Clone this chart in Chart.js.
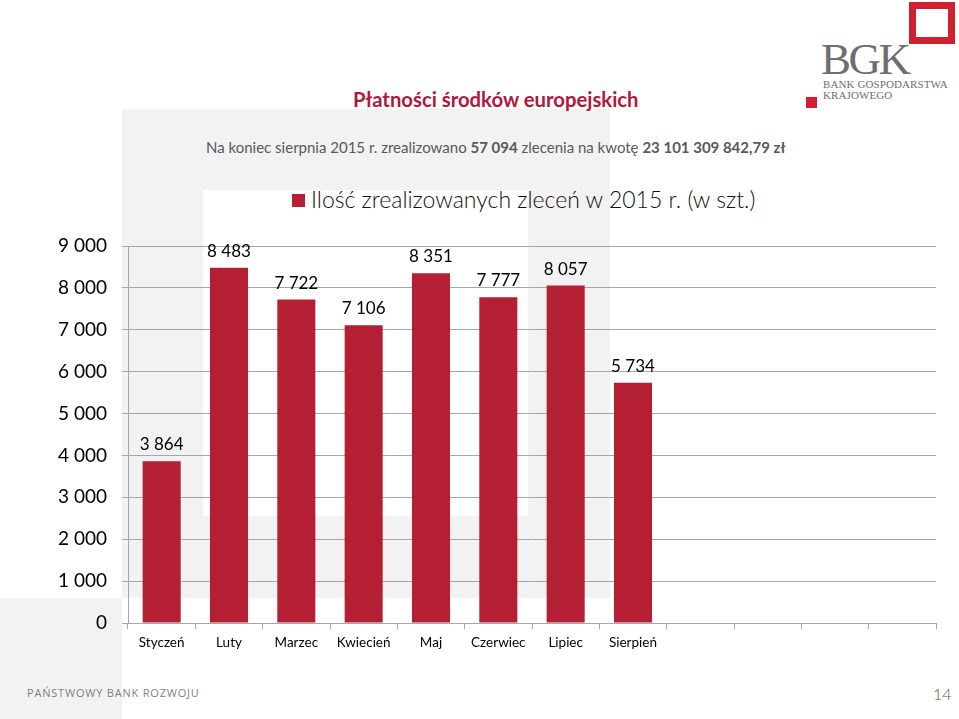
<!DOCTYPE html>
<html lang="pl">
<head>
<meta charset="utf-8">
<script src="https://cdn.jsdelivr.net/npm/chart.js@4/dist/chart.umd.min.js"></script>
<style>
  html, body { margin: 0; padding: 0; background: #fff; }
  body { width: 959px; height: 719px; position: relative; overflow: hidden; font-family: Lato, "Open Sans", sans-serif; }
  .bg { position: absolute; }
  #chartWrap { position: absolute; left: 0; top: 0; width: 959px; height: 719px; }
  .txt { position: absolute; white-space: nowrap; }
</style>
</head>
<body>
<!-- decorative slide background -->
<div class="bg" style="left:122px;top:109px;width:488px;height:489px;background:#f2f2f2;"></div>
<div class="bg" style="left:203px;top:190px;width:325px;height:326px;background:#ffffff;"></div>
<div class="bg" style="left:0;top:598px;width:122px;height:121px;background:#f2f2f2;"></div>

<!-- logo -->
<div class="bg" style="left:909px;top:2px;width:32px;height:28px;border:7px solid #d1202f;"></div>
<div class="txt" style="left:821px;top:33px;font-family:'Liberation Serif','DejaVu Serif',serif;font-size:45px;line-height:52px;color:#6d6e71;letter-spacing:-2.5px;">BGK</div>
<div class="txt" style="left:823px;top:78px;font-family:'Liberation Serif','DejaVu Serif',serif;font-size:11px;line-height:12px;color:#6d6e71;letter-spacing:0.1px;">BANK GOSPODARSTWA</div>
<div class="txt" style="left:823px;top:89px;font-family:'Liberation Serif','DejaVu Serif',serif;font-size:11px;line-height:12px;color:#6d6e71;letter-spacing:0.1px;">KRAJOWEGO</div>
<div class="bg" style="left:806px;top:97px;width:11px;height:11px;background:#d1202f;"></div>

<!-- titles -->
<div class="txt" style="left:353px;top:86px;font-size:20.3px;line-height:26px;font-weight:bold;color:#b0183c;">Płatności środków europejskich</div>
<div class="txt" style="left:206px;top:137px;font-size:15px;line-height:20px;color:#595959;">Na koniec sierpnia 2015 r. zrealizowano <b>57 094</b> zlecenia na kwotę <b>23 101 309 842,79 zł</b></div>

<!-- legend -->
<div class="bg" style="left:292px;top:194px;width:13px;height:13px;background:#b51f34;"></div>
<div class="txt" style="left:311px;top:184px;font-size:23px;line-height:30px;color:#111;font-weight:300;">Ilość zrealizowanych zleceń w 2015 r. (w szt.)</div>

<!-- footer -->
<div class="txt" style="left:27px;top:686px;font-family:'Open Sans',Lato,sans-serif;font-size:11px;line-height:14px;color:#7f7f7f;letter-spacing:0.8px;">PAŃSTWOWY BANK ROZWOJU</div>
<div class="txt" style="left:933px;top:684px;font-size:16px;line-height:20px;color:#595959;font-weight:300;">14</div>

<div id="chartWrap"><canvas id="c" width="959" height="719"></canvas></div>

<script>
const categories = ["Styczeń", "Luty", "Marzec", "Kwiecień", "Maj", "Czerwiec", "Lipiec", "Sierpień", "", "", "", ""];
const orders2015 = [3864, 8483, 7722, 7106, 8351, 7777, 8057, 5734, null, null, null, null];
const yTicks = [0, 1000, 2000, 3000, 4000, 5000, 6000, 7000, 8000, 9000];

function fmt(v) {
  return String(Math.round(v)).replace(/\B(?=(\d{3})+(?!\d))/g, " ");
}

const barLabels = {
  id: "barLabels",
  afterDatasetsDraw(chart) {
    const ctx = chart.ctx;
    const meta = chart.getDatasetMeta(0);
    ctx.save();
    ctx.font = "17px Lato, 'Open Sans', sans-serif";
    ctx.fillStyle = "#000";
    ctx.textAlign = "center";
    ctx.textBaseline = "alphabetic";
    meta.data.forEach((bar, i) => {
      const v = orders2015[i];
      if (v == null) return;
      ctx.fillText(fmt(v), bar.x, bar.y - 11);
    });
    ctx.restore();
  }
};

Chart.defaults.font.family = "Lato, 'Open Sans', sans-serif";
Chart.defaults.color = "#000";

new Chart(document.getElementById("c"), {
  type: "bar",
  data: {
    labels: categories,
    datasets: [{
      label: "Ilość zrealizowanych zleceń w 2015 r. (w szt.)",
      data: orders2015,
      backgroundColor: "#b51f34",
      borderWidth: 0,
      categoryPercentage: 1.0,
      barPercentage: 0.565
    }]
  },
  options: {
    responsive: false,
    animation: false,
    devicePixelRatio: 1,
    layout: { padding: { left: 0, top: 246, right: 23, bottom: 0 } },
    plugins: { legend: { display: false }, tooltip: { enabled: false } },
    scales: {
      x: {
        offset: true,
        grid: { offset: true, drawOnChartArea: false, drawTicks: true, tickLength: 6, color: "#a6a6a6" },
        border: { color: "#a6a6a6", width: 1 },
        ticks: { font: { size: 13.5 }, color: "#000", padding: 6, maxRotation: 0, autoSkip: false },
        afterFit(scale) { scale.height = 96; }
      },
      y: {
        min: 0,
        max: 9000,
        afterBuildTicks(scale) { scale.ticks = yTicks.map(v => ({ value: v })); },
        grid: { color: "#a6a6a6", lineWidth: 1, tickLength: 6, drawTicks: true },
        border: { color: "#a6a6a6", width: 1 },
        ticks: { font: { size: 19 }, color: "#000", padding: 15, callback: v => fmt(v) },
        afterFit(scale) { scale.width = 128; }
      }
    }
  },
  plugins: [barLabels]
});
</script>
</body>
</html>
